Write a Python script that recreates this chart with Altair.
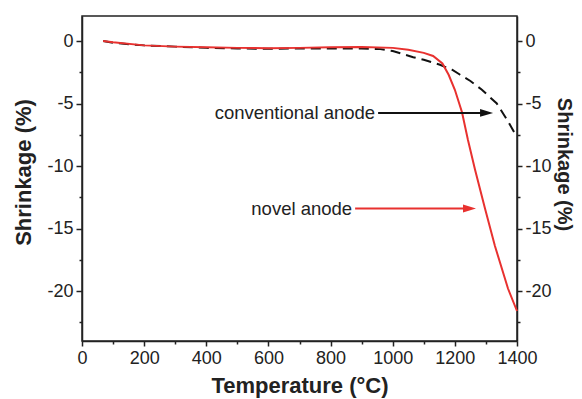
import altair as alt
import pandas as pd

# ---- data ----
novel_T = [68, 100, 200, 300, 400, 500, 600, 700, 800, 900, 1000, 1050, 1100, 1130,
           1160, 1180, 1200, 1223, 1242, 1265, 1297, 1329, 1371, 1400]
novel_S = [0.0, -0.1, -0.35, -0.45, -0.5, -0.55, -0.58, -0.55, -0.5, -0.48, -0.55, -0.7,
           -0.95, -1.2, -1.8, -2.7, -3.9, -5.7, -7.9, -10.3, -13.4, -16.4, -19.8, -21.6]

conv_T = [68, 100, 200, 300, 400, 500, 600, 700, 800, 900, 960, 1000, 1066, 1100,
          1152, 1191, 1217, 1250, 1287, 1335, 1368, 1400]
conv_S = [0.0, -0.15, -0.35, -0.45, -0.55, -0.6, -0.62, -0.6, -0.6, -0.6, -0.65, -0.8,
          -1.3, -1.5, -1.9, -2.3, -2.7, -3.2, -3.9, -5.0, -6.3, -7.7]

ann_labels = ["conventional anode", "novel anode"]
ann_start = [953, 879]
ann_end = [1323, 1268]
ann_S = [-5.75, -13.4]
ann_colors = ["#111111", "#e8312f"]

x_ticks = list(range(0, 1401, 100))
y_ticks = [v * 2.5 for v in range(-9, 1)]

novel_df = pd.DataFrame({"T": novel_T, "S": novel_S})
conv_df = pd.DataFrame({"T": conv_T, "S": conv_S})
ann_df = pd.DataFrame({"label": ann_labels, "T": ann_start, "T2": ann_end,
                       "S": ann_S, "color": ann_colors})

FONT = "Liberation Sans"
INK = "#222222"

x_scale = alt.Scale(domain=[0, 1400], nice=False, zero=False)
y_scale = alt.Scale(domain=[-24, 2], nice=False, zero=False)

x_axis = alt.Axis(
    values=x_ticks,
    labelExpr="datum.value % 200 === 0 ? '' + datum.value : ''",
    tickSize={"condition": {"test": "datum.value % 200 === 0", "value": 5}, "value": 3},
    labelFlush=False, labelOverlap=False, labelPadding=3,
    title="Temperature (°C)", titleY=51, titleBaseline="alphabetic",
)

left_axis = alt.Axis(
    orient="left", values=y_ticks,
    labelExpr="datum.value % 5 === 0 ? '' + datum.value : ''",
    tickSize={"condition": {"test": "datum.value % 5 === 0", "value": 6}, "value": 3},
    labelFlush=False, labelOverlap=False, labelPadding=3,
    title="Shrinkage (%)", titleAngle=270, titleX=-59, titleY=156,
    titleAlign="center", titleBaseline="middle",
)

right_axis = alt.Axis(
    orient="right", values=y_ticks,
    labelExpr="datum.value % 5 === 0 ? '' + datum.value : ''",
    tickSize={"condition": {"test": "datum.value % 5 === 0", "value": 5}, "value": 3},
    labelFlush=False, labelOverlap=False, labelPadding=3,
    title="Shrinkage (%)", titleAngle=90, titleX=46, titleY=148,
    titleAlign="center", titleBaseline="middle", titleFontSize=20,
)

X = alt.X("T:Q", scale=x_scale, axis=x_axis)
Y = alt.Y("S:Q", scale=y_scale, axis=left_axis)

conv_line = alt.Chart(conv_df).mark_line(
    color="#111111", strokeWidth=2, strokeDash=[10, 6]
).encode(x=X, y=Y)

novel_line = alt.Chart(novel_df).mark_line(
    color="#e8312f", strokeWidth=2
).encode(x=X, y=Y)

arrows = alt.Chart(ann_df).mark_rule(strokeWidth=2, x2Offset=-8).encode(
    x=X, x2="T2:Q", y=Y, color=alt.Color("color:N", scale=None)
)

heads = alt.Chart(ann_df).mark_point(
    shape="M-1,-0.6L1,0L-1,0.6Z", filled=True, size=169, opacity=1, xOffset=-6.5
).encode(
    x=alt.X("T2:Q", scale=x_scale, axis=x_axis), y=Y,
    color=alt.Color("color:N", scale=None)
)

labels = alt.Chart(ann_df).mark_text(
    align="right", baseline="middle", dx=-3, fontSize=18.5, color=INK, font=FONT
).encode(x=X, y=Y, text="label:N")

inner = alt.layer(conv_line, novel_line, arrows, heads, labels)

right_layer = alt.Chart(novel_df).mark_line(opacity=0).encode(
    x=X, y=alt.Y("S:Q", scale=y_scale, axis=right_axis)
)

chart = alt.layer(inner, right_layer).resolve_scale(y="independent").properties(
    width=435, height=325,
    padding={"left": 74, "top": 8, "right": 57, "bottom": 58},
    autosize=alt.AutoSizeParams(type="none"),
).configure(font=FONT).configure_view(
    stroke=INK, strokeWidth=1.5
).configure_axis(
    grid=False, domainColor=INK, domainWidth=1.5, tickColor=INK, tickWidth=1.5,
    labelColor=INK, labelFontSize=18, labelFont=FONT,
    titleColor=INK, titleFontSize=22, titleFontWeight="bold", titleFont=FONT,
)

chart.save("out.html", embed_options={"renderer": "svg", "actions": False})
